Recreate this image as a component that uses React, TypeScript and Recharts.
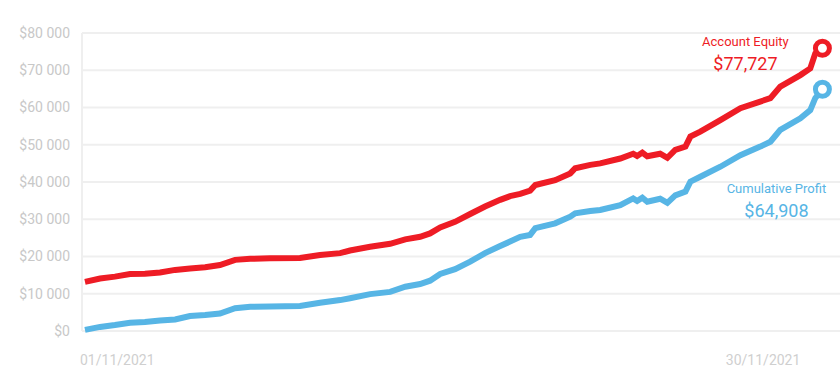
import React from 'react';
import {
  LineChart,
  Line,
  XAxis,
  YAxis,
  CartesianGrid,
  ReferenceDot,
} from 'recharts';

// day of month (fractional) for each trade close
const days = [
  1.12, 1.73, 2.33, 2.94, 3.54, 4.15, 4.76, 5.36, 5.97, 6.57, 7.18, 7.79, 8.59, 9.8,
  10.61, 11.42, 11.82, 12.63, 13.44, 14.05, 14.65, 15.05, 15.46, 16.06, 16.67, 17.27,
  17.88, 18.28, 18.69, 19.09, 19.3, 20.1, 20.71, 20.91, 21.52, 21.92, 22.73, 23.25,
  23.41, 23.62, 23.82, 24.34, 24.63, 24.95, 25.36, 25.56, 25.96, 26.77, 27.58, 28.38,
  28.79, 29.19, 30.0, 30.4, 30.6, 30.89,
];

const equity = [
  13200, 14100, 14600, 15300, 15400, 15700, 16400, 16800, 17100, 17700, 19100, 19400,
  19500, 19600, 20400, 20900, 21600, 22600, 23400, 24600, 25300, 26200, 27800, 29300,
  31400, 33400, 35200, 36200, 36800, 37700, 39200, 40500, 42300, 43700, 44600, 45000,
  46300, 47600, 47000, 47900, 46900, 47600, 46500, 48600, 49500, 52200, 53500, 56600,
  59800, 61600, 62500, 65600, 68700, 70500, 74500, 75900,
];

const profit = [
  300, 1100, 1600, 2200, 2400, 2800, 3100, 4000, 4300, 4700, 6100, 6500, 6600, 6700,
  7600, 8300, 8800, 9900, 10500, 11900, 12600, 13500, 15300, 16600, 18600, 20900,
  22800, 24000, 25300, 25800, 27600, 28900, 30700, 31600, 32200, 32500, 33800, 35600,
  34900, 35800, 34700, 35500, 34400, 36400, 37400, 40100, 41400, 44100, 47200, 49500,
  50800, 54000, 57100, 59300, 62500, 64908,
];

const xTicks = [1, 30];
const xTickLabels = ['01/11/2021', '30/11/2021'];
const yTicks = [0, 10000, 20000, 30000, 40000, 50000, 60000, 70000, 80000];

const RED = '#ee1c25';
const BLUE = '#57b5e5';
const FONT = 'Roboto, sans-serif';

const data = days.map((d, i) => ({ day: d, equity: equity[i], profit: profit[i] }));
const last = data.length - 1;

const fmtMoney = (v: number) => '$' + String(v).replace(/\B(?=(\d{3})+(?!\d))/g, ' ');

const XTick = (props: any) => {
  const { x, y, index } = props;
  return (
    <text
      x={index === 0 ? x - 2 : x}
      y={y}
      dy="0.71em"
      textAnchor={index === 0 ? 'start' : 'end'}
      fill="#cfcfcf"
      fontSize={14}
      fontFamily={FONT}
    >
      {xTickLabels[index]}
    </text>
  );
};

const endMarker = (color: string, title: string, amount: string, dx: number, dy: number) =>
  (props: any) => {
    const { cx, cy } = props;
    return (
      <g>
        <circle cx={cx} cy={cy} r={7} fill="#fff" stroke={color} strokeWidth={5} />
        <text
          x={cx + dx}
          y={cy + dy}
          textAnchor="middle"
          dominantBaseline="central"
          fill={color}
          fontSize={13}
          fontFamily={FONT}
        >
          {title}
        </text>
        <text
          x={cx + dx}
          y={cy + dy + 22}
          textAnchor="middle"
          dominantBaseline="central"
          fill={color}
          fontSize={18}
          fontFamily={FONT}
        >
          {amount}
        </text>
      </g>
    );
  };

export default function App() {
  return (
    <div style={{ position: 'absolute', left: 0, top: 0, fontFamily: FONT }}>
      <LineChart
        width={840}
        height={383}
        data={data}
        margin={{ top: 33, right: 0, left: 0, bottom: 22 }}
      >
        <CartesianGrid vertical={false} stroke="#efefef" strokeWidth={2} />
        <XAxis
          dataKey="day"
          type="number"
          domain={[1, 31.6]}
          ticks={xTicks}
          axisLine={false}
          tickLine={false}
          tickMargin={18}
          tick={<XTick />}
          height={30}
        />
        <YAxis
          type="number"
          domain={[0, 80000]}
          ticks={yTicks}
          width={82}
          axisLine={{ stroke: '#efefef', strokeWidth: 2 }}
          tickLine={false}
          tickMargin={6}
          tick={{ fill: '#c8c8c8', fontSize: 14, fontFamily: FONT }}
          tickFormatter={fmtMoney}
        />
        <Line
          dataKey="equity"
          type="linear"
          stroke={RED}
          strokeWidth={6}
          dot={false}
          activeDot={false}
          isAnimationActive={false}
        />
        <Line
          dataKey="profit"
          type="linear"
          stroke={BLUE}
          strokeWidth={6}
          dot={false}
          activeDot={false}
          isAnimationActive={false}
        />
        <ReferenceDot
          x={days[last]}
          y={equity[last]}
          shape={endMarker(RED, 'Account Equity', '$77,727', -77, -7)}
        />
        <ReferenceDot
          x={days[last]}
          y={profit[last]}
          shape={endMarker(BLUE, 'Cumulative Profit', '$64,908', -46, 99)}
        />
      </LineChart>
    </div>
  );
}
